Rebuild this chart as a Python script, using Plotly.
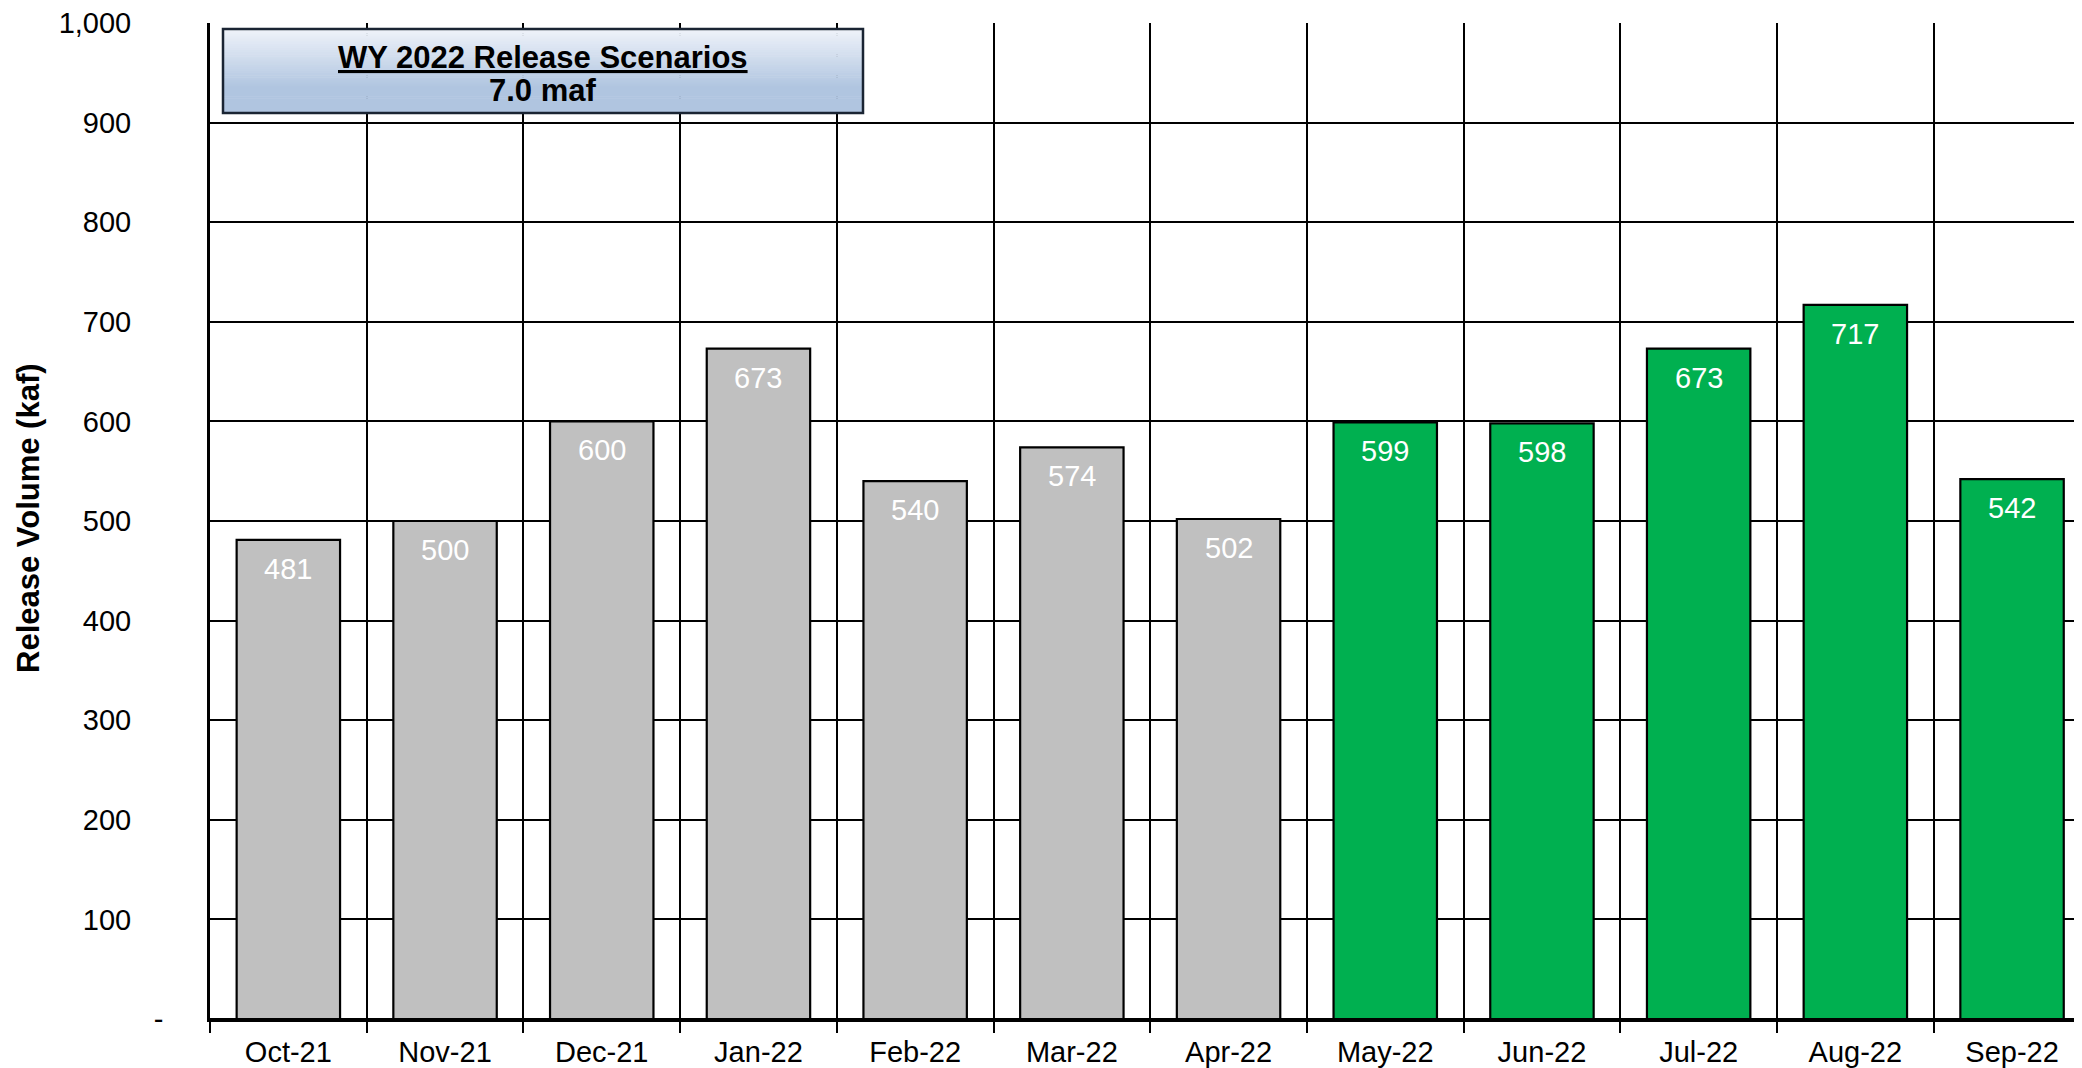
import plotly.graph_objects as go

months = ["Oct-21", "Nov-21", "Dec-21", "Jan-22", "Feb-22", "Mar-22",
          "Apr-22", "May-22", "Jun-22", "Jul-22", "Aug-22", "Sep-22"]
release_kaf = [481, 500, 600, 673, 540, 574, 502, 599, 598, 673, 717, 542]
is_projected = [False] * 7 + [True] * 5
y_tick_vals = [0, 100, 200, 300, 400, 500, 600, 700, 800, 900, 1000]
y_tick_text = ["-", "100", "200", "300", "400", "500", "600", "700", "800", "900", "1,000"]
box_title = "WY 2022 Release Scenarios"
box_subtitle = "7.0 maf"
y_title = "Release Volume (kaf)"

GREY = "#c0c0c0"
GREEN = "#00b050"
FONT = "Liberation Sans, Arial, sans-serif"

# page body has an 8px default margin; figure sized to fit the window exactly
OFF = 8
W, H = 2082 - OFF, 1068 - OFF
ML, MR, MT, MB = 210 - OFF, 0, 23 - OFF, 49
plot_w = W - ML - MR
plot_h = H - MT - MB
cat_px = 156.7
x_hi = -0.5 + plot_w / cat_px

colors = [GREEN if p else GREY for p in is_projected]

fig = go.Figure()
fig.add_trace(go.Bar(
    x=months, y=release_kaf,
    marker=dict(color=colors, line=dict(color="black", width=2.2)),
    width=0.66,
    hoverinfo="x+y",
))

for m, v in zip(months, release_kaf):
    fig.add_annotation(x=m, y=v, xref="x", yref="y", text=str(v),
                       showarrow=False, yanchor="middle", yshift=-29,
                       font=dict(family=FONT, size=29, color="white"))

pad = "\u00a0" * 4
ticktext = [t if t == "-" else t + pad for t in y_tick_text]

fig.update_layout(
    template="none",
    width=W, height=H,
    margin=dict(l=ML, r=MR, t=MT, b=MB, pad=0, autoexpand=False),
    paper_bgcolor="white", plot_bgcolor="white",
    showlegend=False,
    bargap=0.34,
    font=dict(family=FONT, size=29, color="black"),
    xaxis=dict(
        type="category", range=[-0.5, x_hi], automargin=False,
        tickson="boundaries", ticks="outside", ticklen=11, tickwidth=2, tickcolor="black",
        showgrid=True, gridcolor="black", gridwidth=2,
        showline=True, linecolor="black", linewidth=2.5,
        tickfont=dict(family=FONT, size=29, color="black"),
        ticklabelstandoff=5, ticklabeloverflow="allow",
        zeroline=False,
    ),
    yaxis=dict(
        range=[0, 1000], tickvals=y_tick_vals, ticktext=ticktext, automargin=False,
        ticks="", showgrid=True, gridcolor="black", gridwidth=2,
        showline=True, linecolor="black", linewidth=2.5,
        zeroline=True, zerolinecolor="black", zerolinewidth=2.5,
        tickfont=dict(family=FONT, size=29, color="black"),
        ticklabelstandoff=38, ticklabeloverflow="allow",
    ),
)


def px_x(full_x):
    return (full_x - OFF - ML) / plot_w


def px_y(full_y):
    return 1 - (full_y - OFF - MT) / plot_h


# Y-axis title
fig.add_annotation(
    xref="paper", yref="paper", x=px_x(29), y=px_y(518),
    text=f"<b>{y_title}</b>", textangle=-90, showarrow=False,
    xanchor="center", yanchor="middle",
    font=dict(family=FONT, size=31, color="black"),
)

# Title box with vertical gradient
bx0, bx1 = px_x(223), px_x(863)
by1, by0 = px_y(29), px_y(113)
top_rgb = (238, 242, 249)
bot_rgb = (176, 197, 224)
n = 40
for i in range(n):
    f = i / (n - 1)
    t = min(1.0, f / 0.7)
    c = tuple(round(top_rgb[k] + (bot_rgb[k] - top_rgb[k]) * t) for k in range(3))
    ya = by1 - (by1 - by0) * i / n
    yb = by1 - (by1 - by0) * (i + 1) / n
    fig.add_shape(type="rect", xref="paper", yref="paper", x0=bx0, x1=bx1,
                  y0=yb - 0.0005, y1=ya, fillcolor="rgb(%d,%d,%d)" % c,
                  line=dict(width=0), layer="above")
fig.add_shape(type="rect", xref="paper", yref="paper", x0=bx0, x1=bx1, y0=by0, y1=by1,
              fillcolor="rgba(0,0,0,0)", line=dict(color="#1a2433", width=2.5), layer="above")
fig.add_annotation(
    xref="paper", yref="paper", x=(bx0 + bx1) / 2, y=px_y(58),
    text=f"<b><u>{box_title}</u></b>",
    showarrow=False, xanchor="center", yanchor="middle",
    font=dict(family=FONT, size=31, color="black"),
)
fig.add_annotation(
    xref="paper", yref="paper", x=(bx0 + bx1) / 2, y=px_y(91),
    text=f"<b>{box_subtitle}</b>",
    showarrow=False, xanchor="center", yanchor="middle",
    font=dict(family=FONT, size=31, color="black"),
)

fig.write_html("out.html")
